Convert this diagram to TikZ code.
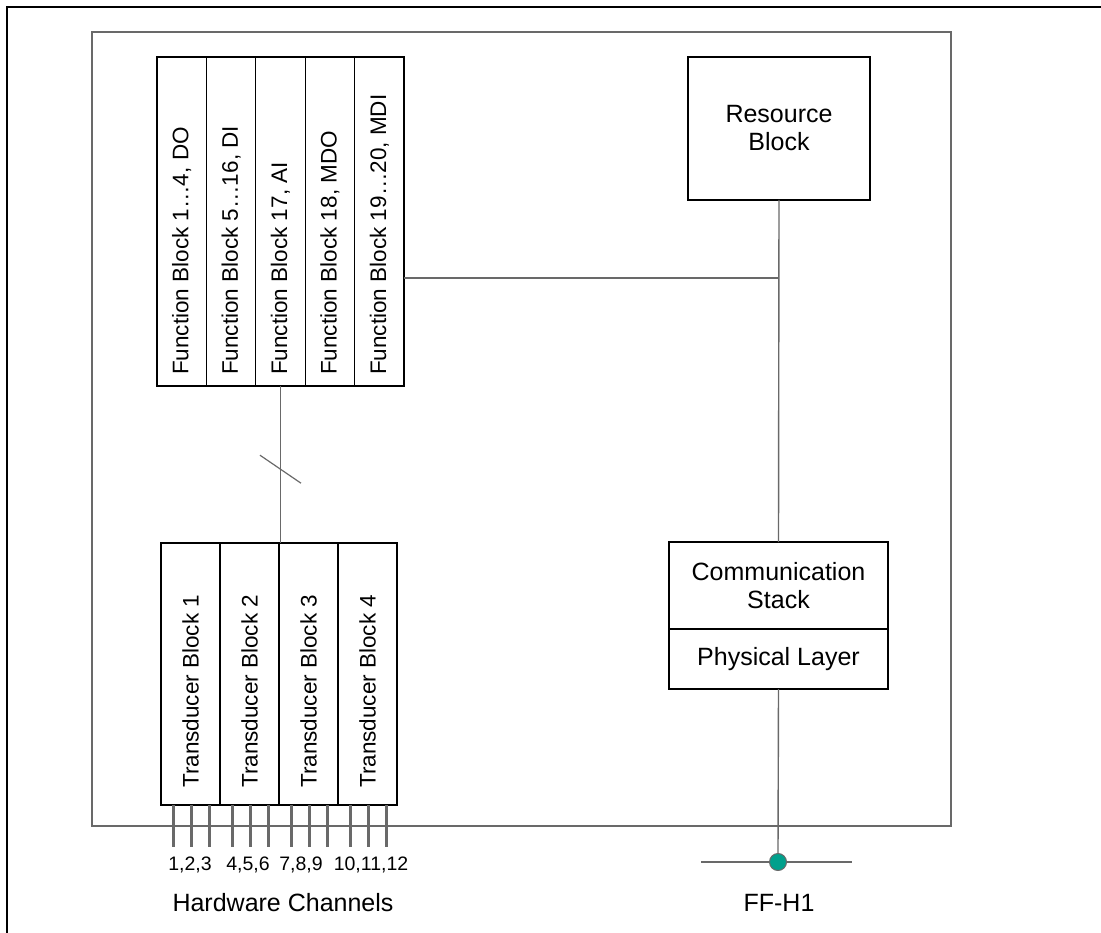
\documentclass[tikz,border=0pt]{standalone}
\usepackage{fontspec}
\setmainfont{Liberation Sans}
\usetikzlibrary{calc}
\definecolor{busteal}{RGB}{0,160,140}
\definecolor{linegray}{RGB}{105,105,105}
\begin{document}
\begin{tikzpicture}[x=1pt,y=-1pt,
  blk/.style={draw=black, line width=1.2pt, inner sep=0pt, outer sep=0pt},
  conn/.style={draw=linegray, line width=1.4pt},
  chan/.style={draw=linegray, line width=2.6pt},
  vtext/.style={rotate=90, anchor=west, inner sep=0pt, font=\fontsize{22.5}{26}\selectfont},
  btext/.style={align=center, font=\fontsize{25}{28}\selectfont},
  ltext/.style={font=\fontsize{19.5}{22}\selectfont, inner sep=0pt}]
\useasboundingbox (0,0) rectangle (1101,933);
% outer frame (left and top visible)
\draw[black, line width=2pt] (7,933) -- (7,7) -- (1101,7);
% inner frame
\draw[draw=linegray, line width=2pt] (92,32) rectangle (951,826);

% function blocks
\foreach \i/\t in {1/{Function Block 1…4, DO},2/{Function Block 5…16, DI},3/{Function Block 17, AI},4/{Function Block 18, MDO},5/{Function Block 19…20, MDI}}{
  \node[blk, minimum width=49.4pt, minimum height=329pt] (fb\i) at ({157+49.4*(\i-0.5)},221.5) {};
  \node[vtext] (fbt\i) at ({157+49.4*(\i-0.5)},375) {\t};
}
% transducer blocks
\foreach \i in {1,2,3,4}{
  \node[blk, minimum width=59pt, minimum height=262pt] (tb\i) at ({161+59*(\i-0.5)},674) {};
  \node[vtext] (tbt\i) at ({161+59*(\i-0.5)},788) {Transducer Block \i};
  \foreach \d in {-17,1,19}{
    \draw[chan] ([xshift=\d pt]tb\i.south) -- ++(0,42);
  }
}
% channel labels
\node[ltext] (c1) at (190,865) {1,2,3};
\node[ltext] (c2) at (248,865) {4,5,6};
\node[ltext] (c3) at (301,865) {7,8,9};
\node[ltext] (c4) at (371,865) {10,11,12};
\node[btext] (hw) at (283,903) {Hardware Channels};

% resource block
\node[blk, minimum width=182pt, minimum height=143pt, btext] (res) at (779,128.5) {Resource\\Block};
% communication stack
\node[blk, minimum width=219pt, minimum height=87pt, btext] (comm) at (778.5,585.5) {Communication\\Stack};
\node[blk, minimum width=219pt, minimum height=60pt, btext] (phys) at (778.5,659) {Physical Layer};

% connectors
\coordinate (j) at (778.5,278);
\draw[conn] (fb5.east |- j) -- (j);
\draw[conn] (res.south) -- (comm.north);
\draw[conn] (fb3.south) -- (fb3.south |- tb1.north);
\coordinate (sl) at ($(fb3.south)!0.53!(fb3.south |- tb1.north)$);
\draw[conn, line width=1.2pt] ([shift={(-20.5,-14)}]sl) -- ([shift={(20.5,14)}]sl);

% bus
\node[circle, fill=busteal, draw=linegray, line width=1pt, minimum size=17pt, inner sep=0pt] (bus) at (778,862) {};
\coordinate (busL) at (701,862);
\coordinate (busR) at (852,862);
\draw[conn] (phys.south) -- (bus.north);
\draw[conn, line width=1.2pt] (busL) -- (bus.west);
\draw[conn, line width=1.2pt] (bus.east) -- (busR);
\node[btext] (ff) at (779,903) {FF-H1};
\end{tikzpicture}
\end{document}
